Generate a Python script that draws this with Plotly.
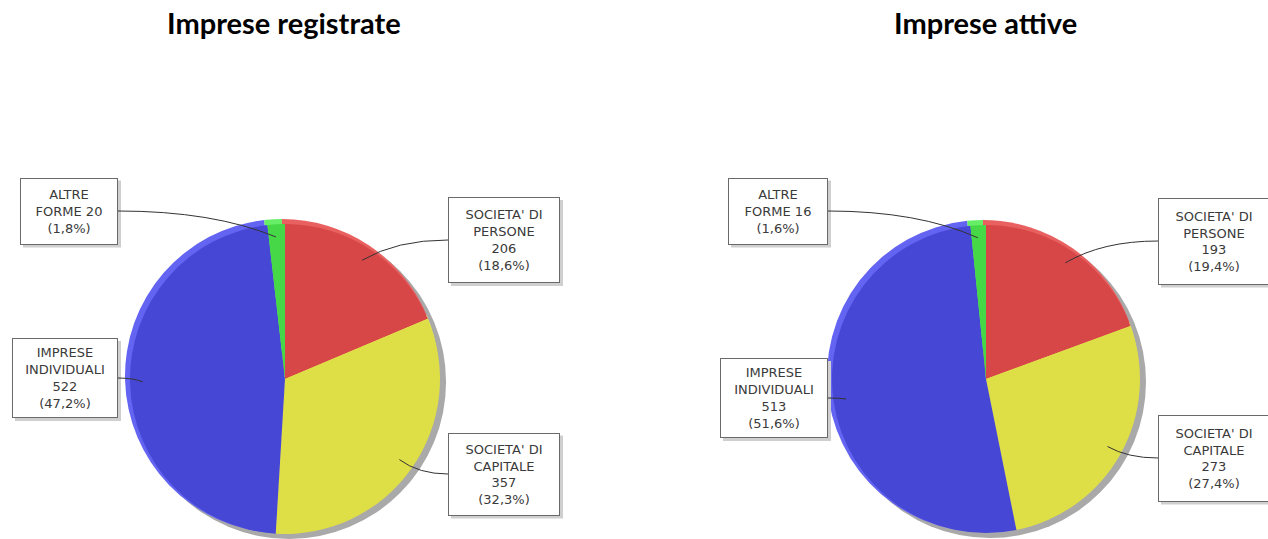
import math
import plotly.graph_objects as go

W, H = 1268, 539

# ---- data ----
categories = ["SOCIETA' DI PERSONE", "SOCIETA' DI CAPITALE", "IMPRESE INDIVIDUALI", "ALTRE FORME"]
label_lines = ["SOCIETA' DI<br>PERSONE", "SOCIETA' DI<br>CAPITALE", "IMPRESE<br>INDIVIDUALI", "ALTRE<br>FORME"]
label_sep = ["<br>", "<br>", "<br>", " "]
registrate = [206, 357, 522, 20]
attive = [193, 273, 513, 16]
titles = ["Imprese registrate", "Imprese attive"]

colors = ["#D84747", "#DEDE47", "#4747D6", "#47D847"]
rim_colors = ["#E86060", "#ECEC66", "#6464F2", "#66EE66"]

# ---- layout (pixels) ----
pies = [
    dict(values=registrate, cx=284, cy=378, r=157, title=titles[0],
         boxes=[("left", 448, 240, 112, 86), ("left", 448, 474, 112, 83),
                ("right", 118, 378, 106, 80), ("right", 118, 211, 98, 67)]),
    dict(values=attive, cx=985, cy=378, r=156, title=titles[1],
         boxes=[("left", 1158, 241, 112, 87), ("left", 1158, 458, 112, 87),
                ("right", 828, 398, 108, 80), ("right", 828, 211, 100, 67)]),
]

def px(x):
    return x / W

def py(y):
    return 1 - y / H

fig = go.Figure()
annotations = []
shapes = []

def pie_domain(cx, cy, r, dx=0, dy=0):
    return dict(x=[px(cx - r + dx), px(cx + r + dx)], y=[py(cy + r + dy), py(cy - r + dy)])

for p in pies:
    cx, cy, r = p["cx"], p["cy"], p["r"]
    # drop shadow
    fig.add_trace(go.Pie(
        values=[1], labels=["shadow"], marker=dict(colors=["#A9A9A9"], line=dict(width=0)),
        textinfo="none", hoverinfo="skip", sort=False, showlegend=False,
        domain=pie_domain(cx, cy, r, 5, 4),
    ))
    # light rim (3D bevel)
    fig.add_trace(go.Pie(
        values=p["values"], labels=categories, marker=dict(colors=rim_colors, line=dict(width=0)),
        textinfo="none", hoverinfo="skip", sort=False, direction="clockwise", rotation=0,
        showlegend=False, domain=pie_domain(cx, cy, r, -2, -2),
    ))
    fig.add_trace(go.Pie(
        values=p["values"], labels=categories, marker=dict(colors=colors, line=dict(width=0)),
        textinfo="none", sort=False, direction="clockwise", rotation=0, showlegend=False,
        domain=pie_domain(cx, cy, r - 2, 1, 1),
    ))
    annotations.append(dict(
        text="<b>" + p["title"] + "</b>", x=px(cx), y=py(22), xref="paper", yref="paper",
        showarrow=False, xanchor="center", yanchor="middle",
        font=dict(family="Lato, Open Sans, sans-serif", size=29, color="#000000"),
    ))
    total = sum(p["values"])
    cum = 0
    for i, v in enumerate(p["values"]):
        mid = (cum + v / 2) / total * 2 * math.pi
        cum += v
        ex = cx + 0.9 * r * math.sin(mid)
        ey = cy - 0.9 * r * math.cos(mid)
        side, bx, by, bw, bh = p["boxes"][i]
        pct = f"{v / total * 100:.1f}".replace(".", ",")
        txt = f"{label_lines[i]}{label_sep[i]}{v}<br>({pct}%)"
        annotations.append(dict(
            text=txt, x=px(bx), y=py(by), xref="paper", yref="paper", showarrow=False,
            xanchor=side, yanchor="middle", align="center",
            width=bw - 6, height=bh - 6, borderpad=2, borderwidth=1,
            bordercolor="#6A6A6A", bgcolor="#FFFFFF",
            font=dict(family="DejaVu Sans, Verdana, sans-serif", size=13, color="#3A3A3A"),
        ))
        # box shadow
        x0 = bx if side == "left" else bx - bw
        shapes.append(dict(type="rect", xref="paper", yref="paper",
                           x0=px(x0 + 3), x1=px(x0 + bw + 3),
                           y0=py(by + bh / 2 + 3), y1=py(by - bh / 2 + 3),
                           fillcolor="#CFCFCF", line=dict(width=0), layer="above"))
        ctrlx = bx + 0.6 * (ex - bx)
        path = f"M {px(bx)},{py(by)} Q {px(ctrlx)},{py(by)} {px(ex)},{py(ey)}"
        shapes.append(dict(type="path", path=path, xref="paper", yref="paper",
                           line=dict(color="#333333", width=1)))

fig.update_layout(
    width=W, height=H, margin=dict(l=0, r=0, t=0, b=0),
    paper_bgcolor="#FFFFFF", plot_bgcolor="#FFFFFF",
    annotations=annotations, shapes=shapes,
)

fig.write_html("out.html", config={"displayModeBar": False},
               post_script="document.body.style.margin='0';document.body.style.overflow='hidden';")
